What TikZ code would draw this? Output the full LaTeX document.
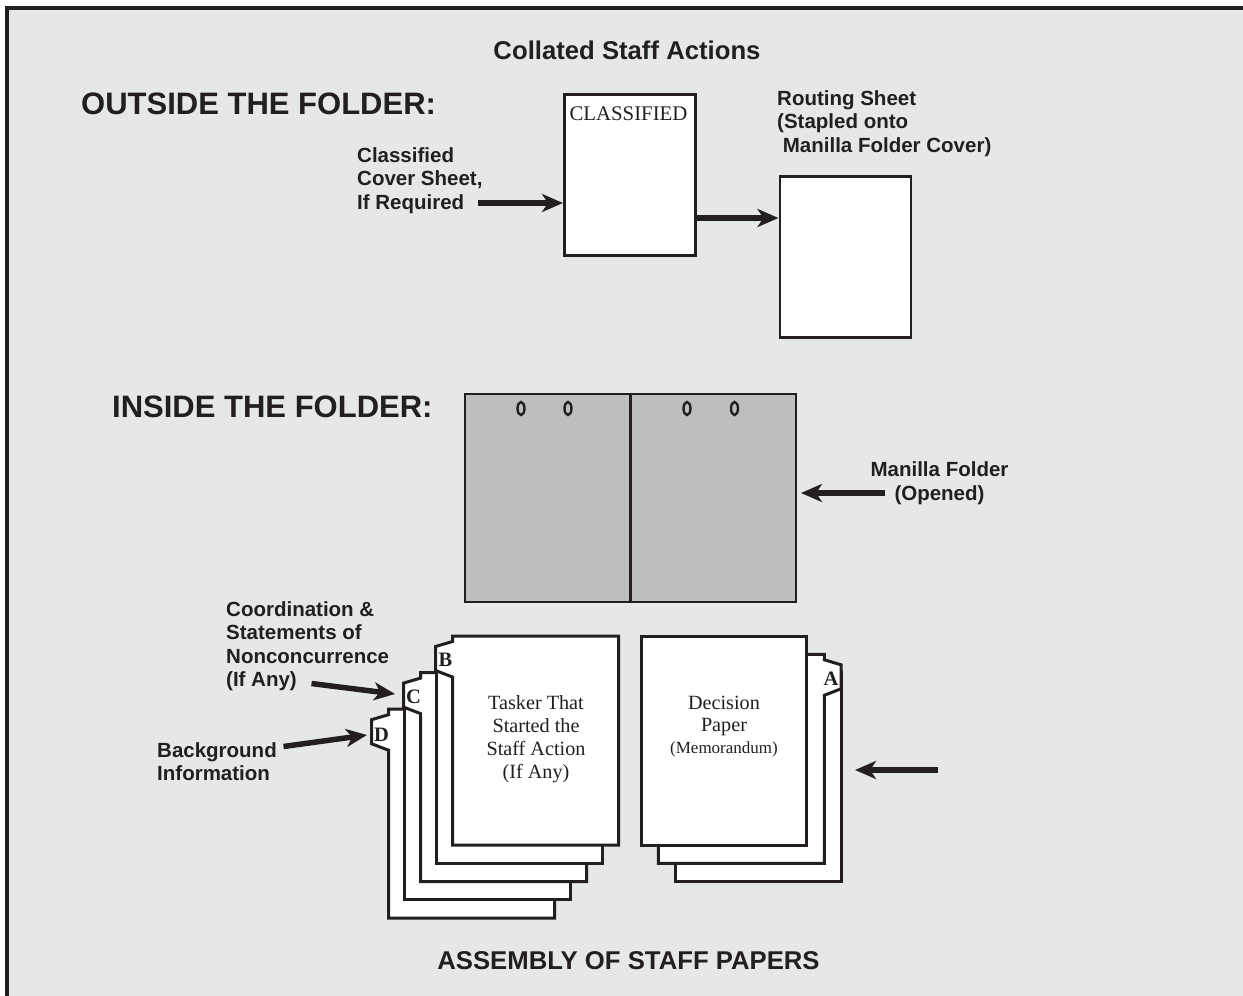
\documentclass[tikz,border=0pt]{standalone}
\usepackage{fontspec}
\setmainfont{Liberation Serif}
\newfontfamily\lsans{Liberation Sans}
\usetikzlibrary{arrows.meta}
\definecolor{bgc}{HTML}{E6E7E8}
\definecolor{fold}{HTML}{BCBEC0}
\definecolor{ink}{HTML}{231F20}
\begin{document}
\begin{tikzpicture}[x=1pt,y=-1pt,
  box/.style={draw=ink,fill=white,line width=2.5pt,anchor=north west,inner sep=0pt},
  panel/.style={draw=ink,fill=fold,line width=2.5pt,anchor=north west,inner sep=0pt,minimum width=165.5pt,minimum height=208pt},
  hole/.style={draw=ink,line width=2.4pt},
  sheet/.style={draw=ink,fill=white,line width=3pt,line join=miter},
  bigarrow/.style={draw=ink,line width=5.5pt,-{Stealth[length=21pt,width=18pt,inset=6pt]}},
  head/.style={font=\lsans\bfseries\fontsize{25.7}{30}\selectfont,text=ink,inner sep=0pt},
  big/.style={font=\lsans\bfseries\fontsize{31}{36}\selectfont,text=ink,inner sep=0pt,anchor=base west},
  lab/.style={font=\lsans\bfseries\fontsize{20.5}{23.5}\selectfont,text=ink,inner sep=0pt,align=left,anchor=base west},
  ser/.style={font=\fontsize{20.2}{22.7}\selectfont,text=ink,inner sep=0pt,align=center,anchor=base},
  tabl/.style={font=\bfseries\fontsize{20.5}{24}\selectfont,text=ink,inner sep=0pt}]
\useasboundingbox (0,0) rectangle (1243,996);
\fill[white] (0,0) rectangle (1243,996);
\fill[bgc] (7,8) rectangle (1243,996);
\draw[ink,line width=4pt] (7,996) -- (7,8) -- (1243,8);

% titles
\node[head,anchor=base] (title) at (627,59) {Collated Staff Actions};
\node[big] (outside) at (81,114) {OUTSIDE THE FOLDER:};
\node[big] (inside) at (112,417) {INSIDE THE FOLDER:};
\node[head,anchor=base] (assembly) at (628.5,969) {ASSEMBLY OF STAFF PAPERS};

% outside the folder
\node[box,minimum width=131pt,minimum height=161pt] (cls) at (563,93) {};
\node[font=\fontsize{20.8}{24}\selectfont,text=ink,inner sep=0pt,anchor=base] (clstext) at (628.5,120) {CLASSIFIED};
\node[box,minimum width=131pt,minimum height=161pt] (rout) at (778.5,175) {};
\node[lab] (clslab) at (357,209) {Classified\\Cover Sheet,\\If Required};
\node[lab] (routlab) at (777,152) {Routing Sheet\\(Stapled onto\\\ Manilla Folder Cover)};
\coordinate (a1) at (478,203);
\draw[bigarrow] (a1) -- (a1 -| cls.west);
\coordinate (a2) at (695,218);
\draw[bigarrow] (a2 -| cls.east) -- (a2 -| rout.west);

% inside the folder
\node[panel] (lp) at (463.5,392.5) {};
\node[panel] (rp) at (629,392.5) {};
\foreach \hx/\hn in {521/h1,568/h2,687/h3,734.5/h4}
  \draw[hole] (\hx,408.5) ellipse [x radius=3.5pt,y radius=6.5pt];
\node[lab,align=center,anchor=base] (manlab) at (939.5,500) {Manilla Folder\\(Opened)};
\coordinate (a3) at (885,493);
\draw[bigarrow] (a3) -- ([xshift=4pt]a3 -| rp.east);

% left stack of papers
\draw[sheet] (388.5,709.2) -- ++(166,0) -- ++(0,209) -- ++(-166,0) -- (388.5,750.2) -- (371.5,743.7) -- (371.5,719.7) -- (388.5,714.7) -- cycle;
\draw[sheet] (404.5,690.9) rectangle ++(166,209);
\draw[sheet] (420.5,672.6) -- ++(166,0) -- ++(0,209) -- ++(-166,0) -- (420.5,713.6) -- (403.5,707.1) -- (403.5,683.1) -- (420.5,678.1) -- cycle;
\draw[sheet] (436.5,654.3) rectangle ++(166,209);
\draw[sheet] (452.5,636) -- ++(166,0) -- ++(0,209) -- ++(-166,0) -- (452.5,677) -- (435.5,670.5) -- (435.5,646.5) -- (452.5,641.5) -- cycle;
\node[tabl] (tB) at (445.5,660) {B};
\node[tabl] (tC) at (413.5,697) {C};
\node[tabl] (tD) at (381.5,734.5) {D};
\node[ser] (tasker) at (536,778) {Tasker That\\Started the\\Staff Action\\(If Any)};

% right stack of papers
\draw[sheet] (675,672.6) rectangle ++(166,209);
\draw[sheet] (658.3,654.3) -- (824.3,654.3) -- (824.3,659.8) -- (841,664.8) -- (841,688.8) -- (824.3,695.3) -- (824.3,863.3) -- (658.3,863.3) -- cycle;
\draw[sheet] (641.7,636) rectangle ++(165,209);
\node[tabl] (tA) at (831,679) {A};
\node[ser,font=\fontsize{20.2}{22}\selectfont] (decision) at (724,753) {Decision\\Paper\\{\fontsize{17}{22}\selectfont (Memorandum)}};

% labels for the stacks
\node[lab] (coordlab) at (226,686.5) {Coordination \&\\Statements of\\Nonconcurrence\\(If Any)};
\node[lab] (backlab) at (157,780.5) {Background\\Information};
\coordinate (a4s) at (311.5,683.5);
\coordinate (a4e) at (395,694);
\draw[bigarrow] (a4s) -- (a4e);
\coordinate (a5s) at (283.5,746.5);
\coordinate (a5e) at (367,735);
\draw[bigarrow] (a5s) -- (a5e);
\coordinate (a6s) at (938,770);
\coordinate (a6e) at (855,770);
\draw[bigarrow] (a6s) -- (a6e);
\end{tikzpicture}
\end{document}
